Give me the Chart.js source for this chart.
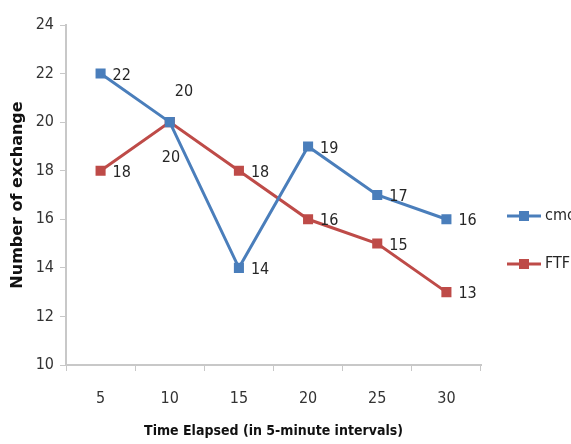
<!DOCTYPE html>
<html lang="en">
<head>
    <meta charset="UTF-8">
    <title>Number of exchange</title>
    <script src="https://cdn.jsdelivr.net/npm/chart.js"></script>
    <style>
        html, body { margin: 0; padding: 0; background: #fff; }
        #wrap { width: 571px; height: 444px; }
    </style>
</head>
<body>
    <div id="wrap"><canvas id="exchangeChart"></canvas></div>

    <script>
        // data
        const intervals = ["5", "10", "15", "20", "25", "30"];
        const cmcValues = [22, 20, 14, 19, 17, 16];
        const ftfValues = [18, 20, 18, 16, 15, 13];
        const yTicks = [10, 12, 14, 16, 18, 20, 22, 24];

        const narrow = "'DejaVu Sans Condensed', 'Open Sans', sans-serif";
        const blue = "#4a7ebb";
        const red = "#be4b48";

        // value labels beside each point, the two at "10" are moved off the crossing
        const pointLabels = {
            id: "pointLabels",
            afterDatasetsDraw(chart) {
                const ctx = chart.ctx;
                ctx.save();
                ctx.font = "16px " + narrow;
                ctx.fillStyle = "#262626";
                ctx.textBaseline = "middle";
                chart.data.datasets.forEach((ds, i) => {
                    const meta = chart.getDatasetMeta(i);
                    meta.data.forEach((pt, j) => {
                        let dx = 12, dy = 2;
                        if (j === 1) {
                            if (i === 0) { dx = 5; dy = -30; } else { dx = -8; dy = 36; }
                        }
                        ctx.fillText(String(ds.data[j]), pt.x + dx, pt.y + dy);
                    });
                });
                ctx.restore();
            }
        };

        // legend at the right: short line with a square marker, then name
        const sideLegend = {
            id: "sideLegend",
            afterDraw(chart) {
                const ctx = chart.ctx;
                ctx.save();
                ctx.font = "16px " + narrow;
                ctx.textBaseline = "middle";
                chart.data.datasets.forEach((ds, i) => {
                    const y = 216 + i * 48;
                    ctx.strokeStyle = ds.borderColor;
                    ctx.lineWidth = 3;
                    ctx.beginPath();
                    ctx.moveTo(507, y);
                    ctx.lineTo(541, y);
                    ctx.stroke();
                    ctx.fillStyle = ds.borderColor;
                    ctx.fillRect(519, y - 5, 10, 10);
                    ctx.fillStyle = "#262626";
                    ctx.fillText(ds.label, 545, y);
                });
                ctx.restore();
            }
        };

        const ctx = document.getElementById("exchangeChart").getContext("2d");
        new Chart(ctx, {
            type: "line",
            data: {
                labels: intervals,
                datasets: [{
                    label: "cmc",
                    data: cmcValues,
                    borderColor: blue,
                    backgroundColor: blue,
                    borderWidth: 3,
                    pointStyle: "rect",
                    pointRadius: 5,
                    tension: 0
                }, {
                    label: "FTF",
                    data: ftfValues,
                    borderColor: red,
                    backgroundColor: red,
                    borderWidth: 3,
                    pointStyle: "rect",
                    pointRadius: 5,
                    tension: 0
                }]
            },
            options: {
                responsive: true,
                maintainAspectRatio: false,
                animation: false,
                layout: { padding: { top: 25, right: 90, left: 0, bottom: 0 } },
                plugins: {
                    legend: { display: false },
                    tooltip: { enabled: false }
                },
                scales: {
                    x: {
                        offset: true,
                        grid: {
                            offset: true,
                            drawOnChartArea: false,
                            color: "#c8c8c8",
                            tickLength: 6
                        },
                        border: { color: "#c8c8c8", width: 2 },
                        ticks: {
                            color: "#333",
                            font: { family: narrow, size: 16 },
                            padding: 18,
                            maxRotation: 0
                        },
                        title: {
                            display: true,
                            text: "Time Elapsed (in 5-minute intervals)",
                            color: "#111",
                            font: { family: narrow, size: 14, weight: "bold" },
                            padding: { top: 4 }
                        },
                        afterFit(scale) { scale.height = 79; }
                    },
                    y: {
                        min: 10,
                        max: 24,
                        afterBuildTicks(scale) {
                            scale.ticks = yTicks.map(v => ({ value: v }));
                        },
                        grid: {
                            drawOnChartArea: false,
                            color: "#c8c8c8",
                            tickLength: 6
                        },
                        border: { color: "#c8c8c8", width: 2 },
                        ticks: {
                            color: "#333",
                            font: { family: narrow, size: 16 },
                            padding: 6
                        },
                        title: {
                            display: true,
                            text: "Number of exchange",
                            color: "#111",
                            font: { family: "'DejaVu Sans', sans-serif", size: 16, weight: "bold" },
                            padding: { top: 8, bottom: 0 }
                        },
                        afterFit(scale) { scale.width = 66; }
                    }
                }
            },
            plugins: [pointLabels, sideLegend]
        });
    </script>
</body>
</html>
